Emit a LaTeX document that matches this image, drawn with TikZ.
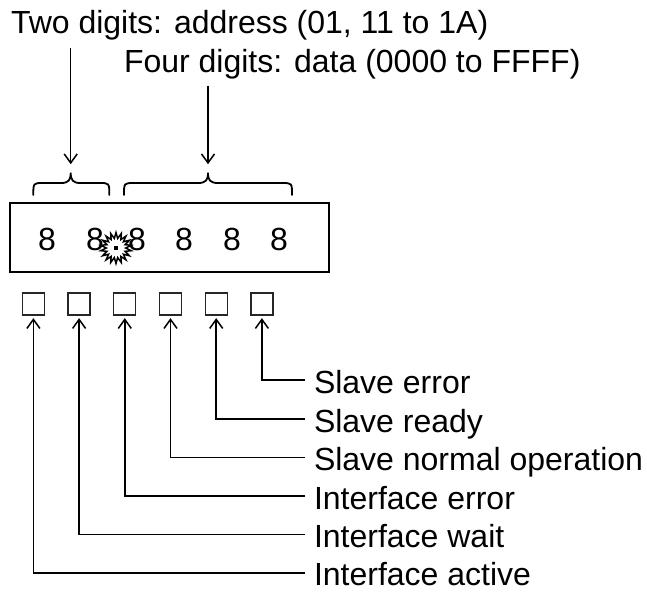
\documentclass[tikz,border=0pt]{standalone}
\usepackage{fontspec}
\setmainfont{Liberation Sans}
\usetikzlibrary{arrows.meta,shapes.geometric}
\begin{document}
\begin{tikzpicture}[x=1pt,y=-1pt,
  txt/.style={inner sep=0pt,outer sep=0pt,font=\fontsize{32}{38}\selectfont,anchor=base west},
  digit/.style={inner sep=0pt,font=\fontsize{32}{38}\selectfont},
  sq/.style={draw=black!85,line width=1.3pt,minimum size=22pt,inner sep=0pt},
  arr/.style={line width=1.5pt,-{Straight Barb[length=9pt,width=13pt,line width=1.5pt]}},
  bracestyle/.style={line width=1.8pt,line cap=round}]
\useasboundingbox (0,0) rectangle (647,592);

% top texts
\node[txt] (t1) at (11,33) {Two digits: address (01, 11 to 1A)};
\node[txt] (t2) at (124,72) {Four digits: data (0000 to FFFF)};

% brace tips
\coordinate (b1) at (70.7,172.7);
\coordinate (b2) at (208,172.7);

% braces
\draw[bracestyle] (33.3,195) .. controls (33.3,183) .. (43,183) -- (61,183)
  .. controls (68.7,183) and (70.7,180) .. (b1)
  .. controls (70.7,180) and (72.7,183) .. (80.5,183) -- (99.5,183)
  .. controls (109.3,183) .. (109.3,195);
\draw[bracestyle] (124,195) .. controls (124,183) .. (134,183) -- (198,183)
  .. controls (206,183) and (208,180) .. (b2)
  .. controls (208,180) and (210,183) .. (218,183) -- (282,183)
  .. controls (292,183) .. (292,195);

% arrows down
\draw[arr,shorten <=8pt,shorten >=8.5pt] (t1.south -| b1) -- (b1);
\draw[arr,shorten <=7pt,shorten >=8.5pt] (t2.south -| b2) -- (b2);

% display box
\node[draw,line width=2pt,minimum width=319pt,minimum height=69pt,inner sep=0pt] (disp) at (169.5,237.5) {};
\node[digit] (d1) at (47,239) {8};
\node[digit] (d2) at (95,239) {8};
\node[digit] (d3) at (137,239) {8};
\node[digit] (d4) at (184,239) {8};
\node[digit] (d5) at (232,239) {8};
\node[digit] (d6) at (279,239) {8};
\node[star,star points=18,star point ratio=1.6,minimum size=31pt,inner sep=0pt,draw,fill=white,line width=1.5pt] (burst) at (116,248) {};
\fill (burst.center) +(-1.7,-1.7) rectangle +(1.7,1.7);

% indicator squares
\node[sq] (s1) at (33.4,304) {};
\node[sq] (s2) at (79.1,304) {};
\node[sq] (s3) at (124.8,304) {};
\node[sq] (s4) at (170.5,304) {};
\node[sq] (s5) at (216.2,304) {};
\node[sq] (s6) at (261.9,304) {};

% labels
\node[txt] (l6) at (314,393) {Slave error};
\node[txt] (l5) at (314,432) {Slave ready};
\node[txt] (l4) at (314,470.5) {Slave normal operation};
\node[txt] (l3) at (314,509) {Interface error};
\node[txt] (l2) at (314,547.5) {Interface wait};
\node[txt] (l1) at (314,585.5) {Interface active};

\coordinate (c6) at (305,380);
\coordinate (c5) at (305,419);
\coordinate (c4) at (305,457.5);
\coordinate (c3) at (305,496);
\coordinate (c2) at (305,534.5);
\coordinate (c1) at (305,573);

\foreach \i in {1,...,6}{
  \draw[arr,shorten >=2.5pt] (c\i) -| (s\i.south);
}
\end{tikzpicture}
\end{document}
